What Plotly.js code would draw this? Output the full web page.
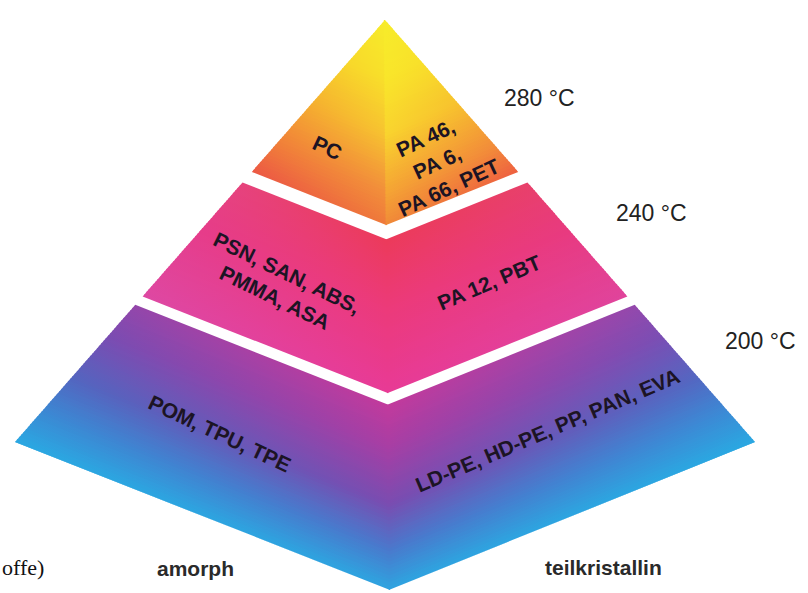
<!DOCTYPE html>
<html><head><meta charset="utf-8">
<script src="https://cdn.plot.ly/plotly-3.0.1.min.js"></script>
<style>html,body{margin:0;padding:0;background:#fff;}#chart{width:808px;height:593px;}</style>
</head><body><div id="chart"></div>
<script>
// ---- chart content ----
const temperatures = ['280 °C', '240 °C', '200 °C'];
const faceCategories = ['amorph', 'teilkristallin'];
const amorphPlastics = ['PC', 'PSN, SAN, ABS,<br>PMMA, ASA', 'POM, TPU, TPE'];
const crystallinePlastics = ['PA 46,<br>PA 6,<br>PA 66, PET', 'PA 12, PBT', 'LD-PE, HD-PE, PP, PAN, EVA'];
const tierStart = [0, 0.385, 0.675];   // fraction of pyramid height (apex = 0, base = 1)
const tierEnd = [0.36, 0.655, 1.0];
const sourceNote = 'offe)';

// ---- geometry (axis units = pixels) ----
const APEX = [385, 20], LEFT = [15, 442], FRONT = [390, 590], RIGHT = [755, 442];
function along(corner, t) { return [APEX[0] + (corner[0] - APEX[0]) * t, APEX[1] + (corner[1] - APEX[1]) * t]; }

// ---- shading: per face, per tier, side and ridge colour stops ----
const shade = {
  left: [
    {side: [[0, '#f7ec2a'], [0.1, '#f8d82a'], [0.2, '#f5ae30'], [0.3, '#f07a3a'], [0.36, '#ec5844']],
     center: [[0, '#f7ec2a'], [0.1, '#f8e02a'], [0.2, '#f7c430'], [0.3, '#f2903a'], [0.36, '#ef7a3a']]},
    {side: [[0.385, '#e6437c'], [0.5, '#e63c8a'], [0.655, '#de48a2']],
     center: [[0.385, '#ec3a5a'], [0.5, '#ec3a78'], [0.655, '#e83a96']]},
    {side: [[0.675, '#9446aa'], [0.75, '#7a4cb2'], [0.85, '#5266c0'], [0.93, '#3a8ad4'], [1, '#2aa8e2']],
     center: [[0.675, '#c23a9c'], [0.75, '#a83ea4'], [0.85, '#7a4cb0'], [0.93, '#4a78cc'], [1, '#2ea4e0']]}
  ],
  right: [
    {side: [[0, '#f7ec2a'], [0.1, '#f8e02a'], [0.2, '#f7c02e'], [0.3, '#f28a3a'], [0.36, '#ee6040']],
     center: [[0, '#f7ec2a'], [0.1, '#f9e62a'], [0.2, '#f9d42e'], [0.3, '#f5a634'], [0.36, '#f08a38']]},
    {side: [[0.385, '#e8406a'], [0.5, '#e83a80'], [0.655, '#e0449c']],
     center: [[0.385, '#ec3a5a'], [0.5, '#ec3a78'], [0.655, '#e83a96']]},
    {side: [[0.675, '#9448ac'], [0.75, '#7a4eb4'], [0.85, '#5268c2'], [0.93, '#3a8cd6'], [1, '#2aa8e2']],
     center: [[0.675, '#c23a9c'], [0.75, '#a83ea4'], [0.85, '#7a4cb0'], [0.93, '#4a78cc'], [1, '#2ea4e0']]}
  ]
};
function hexRgb(h) { return [1, 3, 5].map(i => parseInt(h.substr(i, 2), 16)); }
function colorAt(stops, t) {
  if (t <= stops[0][0]) return stops[0][1];
  for (let i = 1; i < stops.length; i++) {
    if (t <= stops[i][0]) {
      const a = hexRgb(stops[i - 1][1]), b = hexRgb(stops[i][1]);
      const f = (t - stops[i - 1][0]) / (stops[i][0] - stops[i - 1][0]);
      const c = a.map((v, j) => Math.round(v + (b[j] - v) * f));
      return 'rgb(' + c.join(',') + ')';
    }
  }
  return stops[stops.length - 1][1];
}

const traces = [];
const STEP = 0.006, OVER = 0.003;
for (let i = 0; i < tierStart.length; i++) {
  const n = Math.ceil((tierEnd[i] - tierStart[i]) / STEP - 1e-9);
  for (let k = 0; k < n; k++) {
    const t0 = tierStart[i] + k * STEP;
    const t1 = Math.min(tierEnd[i], t0 + STEP + OVER);
    const tm = Math.min(tierEnd[i], t0 + STEP / 2);
    ['left', 'right'].forEach(face => {
      const corner = face === 'left' ? LEFT : RIGHT;
      const s0 = along(corner, t0), s1 = along(corner, t1);
      const f0 = along(FRONT, t0), f1 = along(FRONT, t1);
      const sm = along(corner, tm), fm = along(FRONT, tm);
      // right face overlaps the ridge by a pixel to hide the seam
      const rx = face === 'right' ? -1.2 : 0;
      const sc = colorAt(shade[face][i].side, tm), cc = colorAt(shade[face][i].center, tm);
      traces.push({
        type: 'scatter', mode: 'lines', fill: 'toself',
        x: [s0[0], f0[0] + rx, f1[0] + rx, s1[0], s0[0]],
        y: [s0[1], f0[1], f1[1], s1[1], s0[1]],
        line: {width: 0, color: cc},
        fillgradient: face === 'left'
          ? {type: 'horizontal', start: sm[0], stop: fm[0], colorscale: [[0, sc], [1, cc]]}
          : {type: 'horizontal', start: fm[0], stop: sm[0], colorscale: [[0, cc], [1, sc]]},
        hoverinfo: 'skip', showlegend: false
      });
    });
  }
}

// ---- text ----
const sans = 'Liberation Sans, Arial, Helvetica, sans-serif';
const inner = {family: sans, size: 21, color: '#1c1424', weight: 'bold'};
const temps = {family: sans, size: 23, color: '#222222'};
const cats = {family: sans, size: 21, color: '#2a2a2a', weight: 'bold'};
function ann(text, x, y, angle, font, extra) {
  return Object.assign({text: text, x: x, y: y, xref: 'x', yref: 'y', showarrow: false,
    textangle: angle, font: font, align: 'center', xanchor: 'center', yanchor: 'middle'}, extra || {});
}
const amorphPos = [[327, 147, 25], [281, 285, 26], [220, 433, 25]];
const crystPos = [[437, 163, -25], [489, 282, -23], [547, 430, -23]];
const tempPos = [[539, 98], [651, 213], [760, 341]];
const annotations = [];
amorphPlastics.forEach((s, i) => annotations.push(ann(s, amorphPos[i][0], amorphPos[i][1], amorphPos[i][2], inner)));
crystallinePlastics.forEach((s, i) => annotations.push(ann(s, crystPos[i][0], crystPos[i][1], crystPos[i][2], inner)));
temperatures.forEach((s, i) => annotations.push(ann(s, tempPos[i][0], tempPos[i][1], 0, temps)));
annotations.push(ann(faceCategories[0], 195, 568, 0, cats));
annotations.push(ann(faceCategories[1], 603, 567, 0, cats));
annotations.push(ann(sourceNote, 0, 567, 0, {family: 'Liberation Serif, Times New Roman, serif', size: 22, color: '#111111'}, {xanchor: 'left'}));

const layout = {
  width: 808, height: 593,
  margin: {l: 0, r: 0, t: 0, b: 0},
  paper_bgcolor: '#ffffff', plot_bgcolor: '#ffffff',
  xaxis: {range: [0, 808], visible: false, fixedrange: true},
  yaxis: {range: [593, 0], visible: false, fixedrange: true},
  showlegend: false,
  annotations: annotations
};
Plotly.newPlot('chart', traces, layout, {staticPlot: true, displayModeBar: false});
</script>
</body></html>
